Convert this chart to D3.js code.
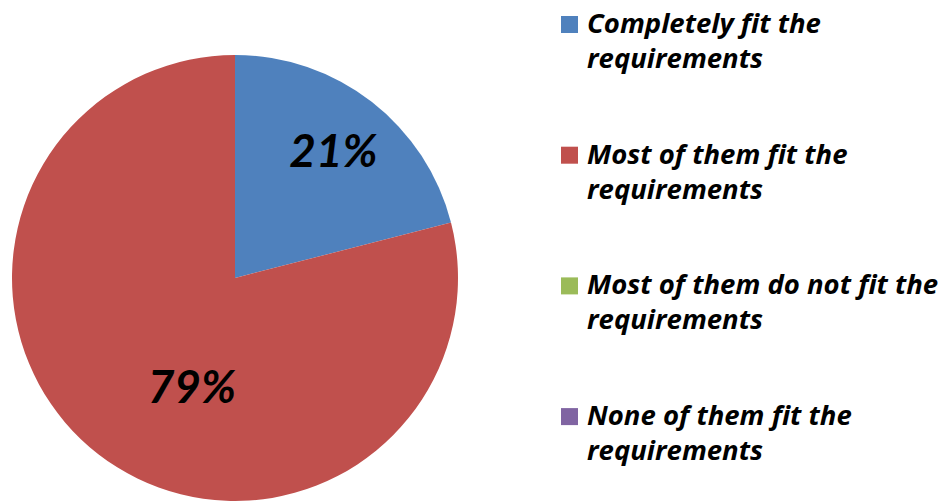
<!DOCTYPE html>
<html>
<head>
<meta charset="utf-8">
<script src="https://cdn.jsdelivr.net/npm/d3@7"></script>
<style>
  body { margin: 0; background: #fff; }
  svg { display: block; }
  text { font-family: Lato, "Open Sans", sans-serif; font-weight: bold; font-style: italic; fill: #000; }
  .legend text { font-family: "Open Sans", Lato, sans-serif; }
</style>
</head>
<body>
<div id="chart"></div>
<script>
var categories = ["Completely fit the requirements", "Most of them fit the requirements",
                  "Most of them do not fit the requirements", "None of them fit the requirements"];
var legendLines = [["Completely fit the", "requirements"],
                   ["Most of them fit the", "requirements"],
                   ["Most of them do not fit the", "requirements"],
                   ["None of them fit the", "requirements"]];
var values = [21, 79, 0, 0];
var colors = ["#4F81BD", "#C0504D", "#9BBB59", "#8064A2"];

var width = 950, height = 501,
    cx = 235, cy = 278, radius = 223;

var svg = d3.select("#chart").append("svg")
    .attr("width", width)
    .attr("height", height);

var pie = d3.pie().sort(null).value(function (d) { return d; });
var arcs = pie(values);

var arc = d3.arc().innerRadius(0).outerRadius(radius);

var g = svg.append("g").attr("transform", "translate(" + cx + "," + cy + ")");

g.selectAll("path").data(arcs)
  .enter().append("path")
    .attr("d", arc)
    .attr("fill", function (d, i) { return colors[i]; });

// labels, roughly where excel put them
var labelArc = d3.arc().innerRadius(radius * 0.72).outerRadius(radius * 0.72);
var smallArc = d3.arc().innerRadius(radius * 0.55).outerRadius(radius * 0.55);
var total = d3.sum(values);

g.selectAll("text.pct").data(arcs.filter(function (d) { return d.value > 0; }))
  .enter().append("text")
    .attr("class", "pct")
    .attr("transform", function (d) {
      var c = d.value / total > 0.5 ? smallArc.centroid(d) : labelArc.centroid(d);
      if (d.value / total > 0.5) { c[0] += 32; c[1] += 12; }
      return "translate(" + c + ")";
    })
    .attr("text-anchor", "middle")
    .attr("dy", "0.35em")
    .style("font-size", "46px")
    .text(function (d) { return Math.round(d.value / total * 100) + "%"; });

// legend
var legend = svg.append("g").attr("class", "legend").attr("transform", "translate(561,16)");
var item = legend.selectAll("g").data(categories)
  .enter().append("g")
    .attr("transform", function (d, i) { return "translate(0," + i * 130.7 + ")"; });

item.append("rect")
    .attr("width", 17)
    .attr("height", 17)
    .attr("fill", function (d, i) { return colors[i]; });

item.append("text")
    .attr("x", 26)
    .attr("y", 17)
    .style("font-size", "27.5px")
    .selectAll("tspan").data(function (d, i) { return legendLines[i]; })
    .enter().append("tspan")
      .attr("x", 26)
      .attr("dy", function (d, j) { return j === 0 ? 0 : 35; })
      .text(function (d) { return d; });
</script>
</body>
</html>
